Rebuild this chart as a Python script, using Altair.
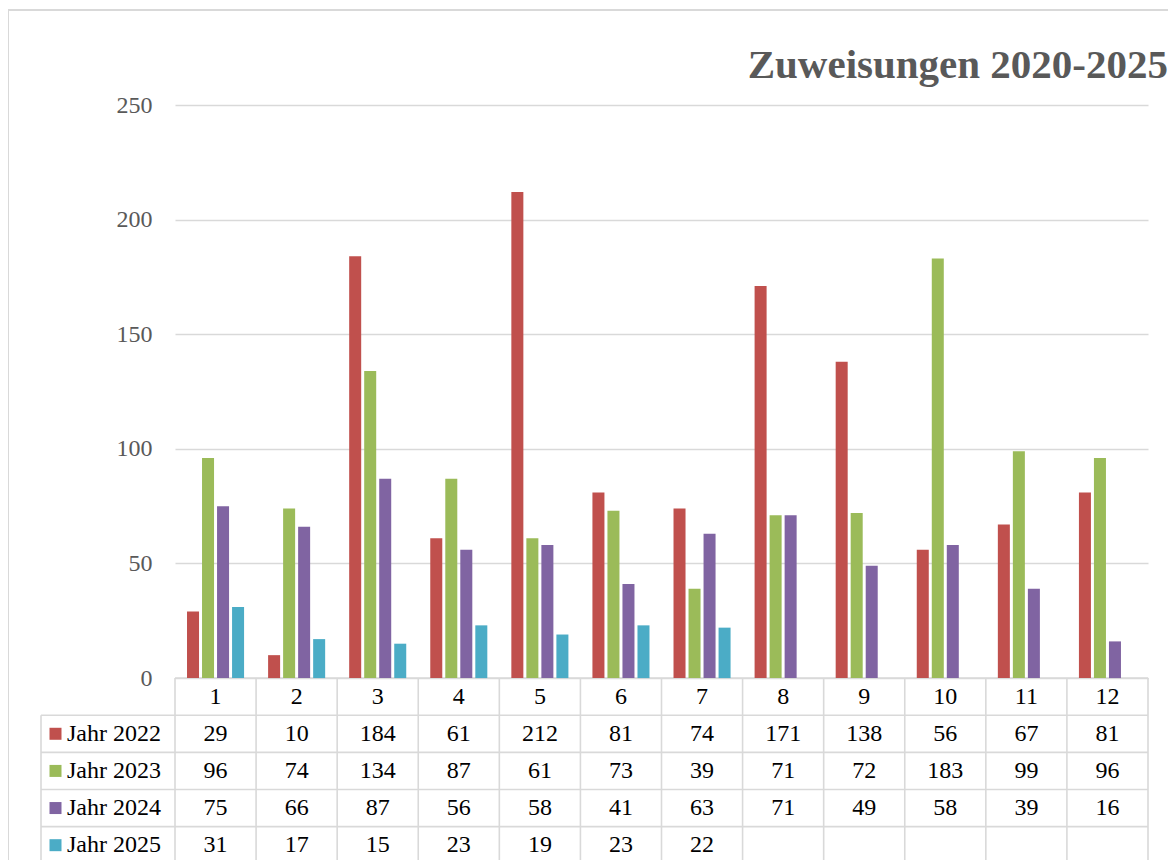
import altair as alt
import pandas as pd

# ---------------- data ----------------
months = list(range(1, 13))
series = ["Jahr 2022", "Jahr 2023", "Jahr 2024", "Jahr 2025"]
v2022 = [29, 10, 184, 61, 212, 81, 74, 171, 138, 56, 67, 81]
v2023 = [96, 74, 134, 87, 61, 73, 39, 71, 72, 183, 99, 96]
v2024 = [75, 66, 87, 56, 58, 41, 63, 71, 49, 58, 39, 16]
v2025 = [31, 17, 15, 23, 19, 23, 22]
colors = ["#C0504D", "#9BBB59", "#8064A2", "#4BACC6"]
y_ticks = [0, 50, 100, 150, 200, 250]
title_text = "Zuweisungen 2020-2025"

# ---------------- layout constants ----------------
ROW = 16.2            # table row height in y units
Y0, Y1 = -75, 250
FONT = "Liberation Serif"
GRID = "#D9D9D9"
W, H = 973, 745

rows = []
for k, (s, vals) in enumerate(zip(series, [v2022, v2023, v2024, v2025])):
    for m, v in zip(months, vals):
        rows.append({"month": m, "series": s, "value": v, "ty": -(k + 1.5) * ROW})
df = pd.DataFrame(rows)

df_head = pd.DataFrame({"month": months, "ty": [-0.5 * ROW] * len(months)})
df_ser = pd.DataFrame({"series": series, "ty": [-(k + 1.5) * ROW for k in range(len(series))]})
df_hl = pd.DataFrame({"yy": [-(k + 1) * ROW for k in range(4)]})
df_top = pd.DataFrame({"yy": [0]})
df_v = pd.DataFrame({"month": months})
df_vend = pd.DataFrame({"month": [months[-1]]})
df_one = pd.DataFrame({"t": [title_text]})

xs = alt.Scale(domain=months, paddingInner=0, paddingOuter=0)
ys = alt.Scale(domain=[Y0, Y1], nice=False, zero=False)
cs = alt.Scale(domain=series, range=colors)
AX = alt.Axis(values=y_ticks, grid=True, domain=False, ticks=False, title=None,
              labelFont=FONT, labelFontSize=24, labelColor="#595959",
              labelPadding=23, gridColor=GRID, gridWidth=1.3)

frame = alt.Chart(df_one).mark_rect(filled=False, stroke=GRID, strokeWidth=2).encode(
    x=alt.value(-167), y=alt.value(-95), x2=alt.value(1200), y2=alt.value(900)
)

hlines = alt.Chart(df_hl).mark_rule(color=GRID, strokeWidth=1.6).encode(
    y=alt.Y("yy:Q", scale=ys, axis=AX), x=alt.value(-134), x2=alt.value(W)
)
topline = alt.Chart(df_top).mark_rule(color=GRID, strokeWidth=1.6).encode(
    y=alt.Y("yy:Q", scale=ys, axis=AX), x=alt.value(0), x2=alt.value(W)
)
vlines = alt.Chart(df_v).mark_rule(color=GRID, strokeWidth=1.6).encode(
    x=alt.X("month:O", scale=xs, axis=None, bandPosition=0),
    y=alt.datum(0), y2=alt.datum(-95),
)
vend = alt.Chart(df_vend).mark_rule(color=GRID, strokeWidth=1.6).encode(
    x=alt.X("month:O", scale=xs, axis=None, bandPosition=1),
    y=alt.datum(0), y2=alt.datum(-95),
)
vleft = alt.Chart(df_one).mark_rule(color=GRID, strokeWidth=1.6).encode(
    x=alt.value(-134), y=alt.datum(-ROW), y2=alt.datum(-95),
)

bars = alt.Chart(df).mark_bar().encode(
    x=alt.X("month:O", scale=xs, axis=None),
    xOffset=alt.XOffset("series:N", scale=alt.Scale(domain=series, paddingInner=0.2, paddingOuter=0.8)),
    y=alt.Y("value:Q", scale=ys, axis=AX),
    y2=alt.datum(0),
    color=alt.Color("series:N", scale=cs, legend=None),
)

cells = alt.Chart(df).mark_text(font=FONT, fontSize=24, color="black", baseline="middle").encode(
    x=alt.X("month:O", scale=xs, axis=None),
    y=alt.Y("ty:Q", scale=ys, axis=AX),
    text="value:Q",
)
header = alt.Chart(df_head).mark_text(font=FONT, fontSize=24, color="black", baseline="middle").encode(
    x=alt.X("month:O", scale=xs, axis=None),
    y=alt.Y("ty:Q", scale=ys, axis=AX),
    text="month:O",
)
squares = alt.Chart(df_ser).mark_square(size=144, opacity=1).encode(
    x=alt.value(-119.5),
    y=alt.Y("ty:Q", scale=ys, axis=AX),
    color=alt.Color("series:N", scale=cs, legend=None),
)
labels = alt.Chart(df_ser).mark_text(font=FONT, fontSize=24, color="black", baseline="middle", align="left").encode(
    x=alt.value(-108),
    y=alt.Y("ty:Q", scale=ys, axis=AX),
    text="series:N",
)
title = alt.Chart(df_one).mark_text(font=FONT, fontSize=41, fontWeight="bold", color="#595959",
                                    align="right", baseline="alphabetic").encode(
    x=alt.value(993), y=alt.value(-27), text="t:N"
)

chart = alt.layer(
    frame, hlines, topline, vlines, vend, vleft, bars, cells, header, squares, labels, title
).properties(
    width=W, height=H,
    autosize=alt.AutoSizeParams(type="none"),
    padding={"left": 167, "top": 97, "right": 20, "bottom": 10},
).configure_view(stroke=None)

chart.save("out.html", embed_options={"renderer": "svg", "actions": False})
